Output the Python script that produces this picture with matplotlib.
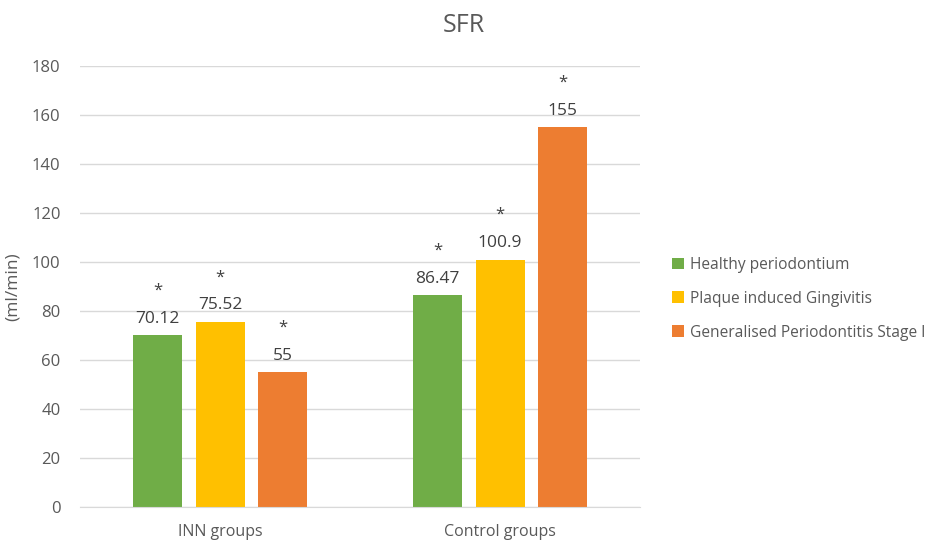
import matplotlib
matplotlib.use("Agg")
import matplotlib.pyplot as plt
import numpy as np

plt.rcParams['font.family'] = ['Open Sans', 'DejaVu Sans']

groups = ["INN groups", "Control groups"]
series_names = ["Healthy periodontium", "Plaque induced Gingivitis",
                "Generalised Periodontitis Stage I"]
healthy = [70.12, 86.47]
gingivitis = [75.52, 100.9]
periodontitis = [55, 155]
value_labels = [["70.12", "86.47"], ["75.52", "100.9"], ["55", "155"]]
y_ticks = [0, 20, 40, 60, 80, 100, 120, 140, 160, 180]

colors = ["#70AD47", "#FFC000", "#ED7D31"]
text_color = "#595959"

fig = plt.figure(figsize=(9.28, 5.4), dpi=100)
ax = fig.add_axes([0.0862, 0.0611, 0.6035, 0.8167])

x = np.arange(len(groups))
width = 0.35
offsets = [-0.446, 0.0, 0.446]
values = [healthy, gingivitis, periodontitis]

for vals, off, col, name, labs in zip(values, offsets, colors, series_names, value_labels):
    pos = x * 2 + 1 + off
    ax.bar(pos, vals, width=width, color=col, label=name, zorder=2)
    for p, v, lab in zip(pos, vals, labs):
        ax.text(p, v + 3.5, lab, ha="center", va="bottom", fontsize=12.5, color="#404040")
        ax.text(p, v + 15, "*", ha="center", va="bottom", fontsize=12, color="#404040")

ax.set_xlim(0, 4)
ax.set_ylim(0, 180)
ax.set_yticks(y_ticks)
ax.set_xticks(x * 2 + 1)
ax.set_xticklabels(groups)
ax.tick_params(axis="both", length=0, labelsize=12, colors=text_color)
ax.tick_params(axis="x", pad=12, labelsize=11.5)
ax.tick_params(axis="y", pad=14)
ax.yaxis.grid(True, color="#D9D9D9", linewidth=1, zorder=0)
ax.set_axisbelow(True)
for s in ["top", "right", "left"]:
    ax.spines[s].set_visible(False)
ax.spines["bottom"].set_color("#D9D9D9")
ax.set_ylabel("(ml/min)", fontsize=12.5, color=text_color, labelpad=8)

fig.text(0.5, 0.952, "SFR", ha="center", va="center", fontsize=18, color=text_color)

handles, labels = ax.get_legend_handles_labels()
fig.legend(handles, labels, loc="center left", bbox_to_anchor=(0.709, 0.447),
           frameon=False, fontsize=11.2, labelcolor=text_color,
           handlelength=0.75, handleheight=0.75, handletextpad=0.4, labelspacing=1.15)

fig.savefig("out.png", dpi=100)
